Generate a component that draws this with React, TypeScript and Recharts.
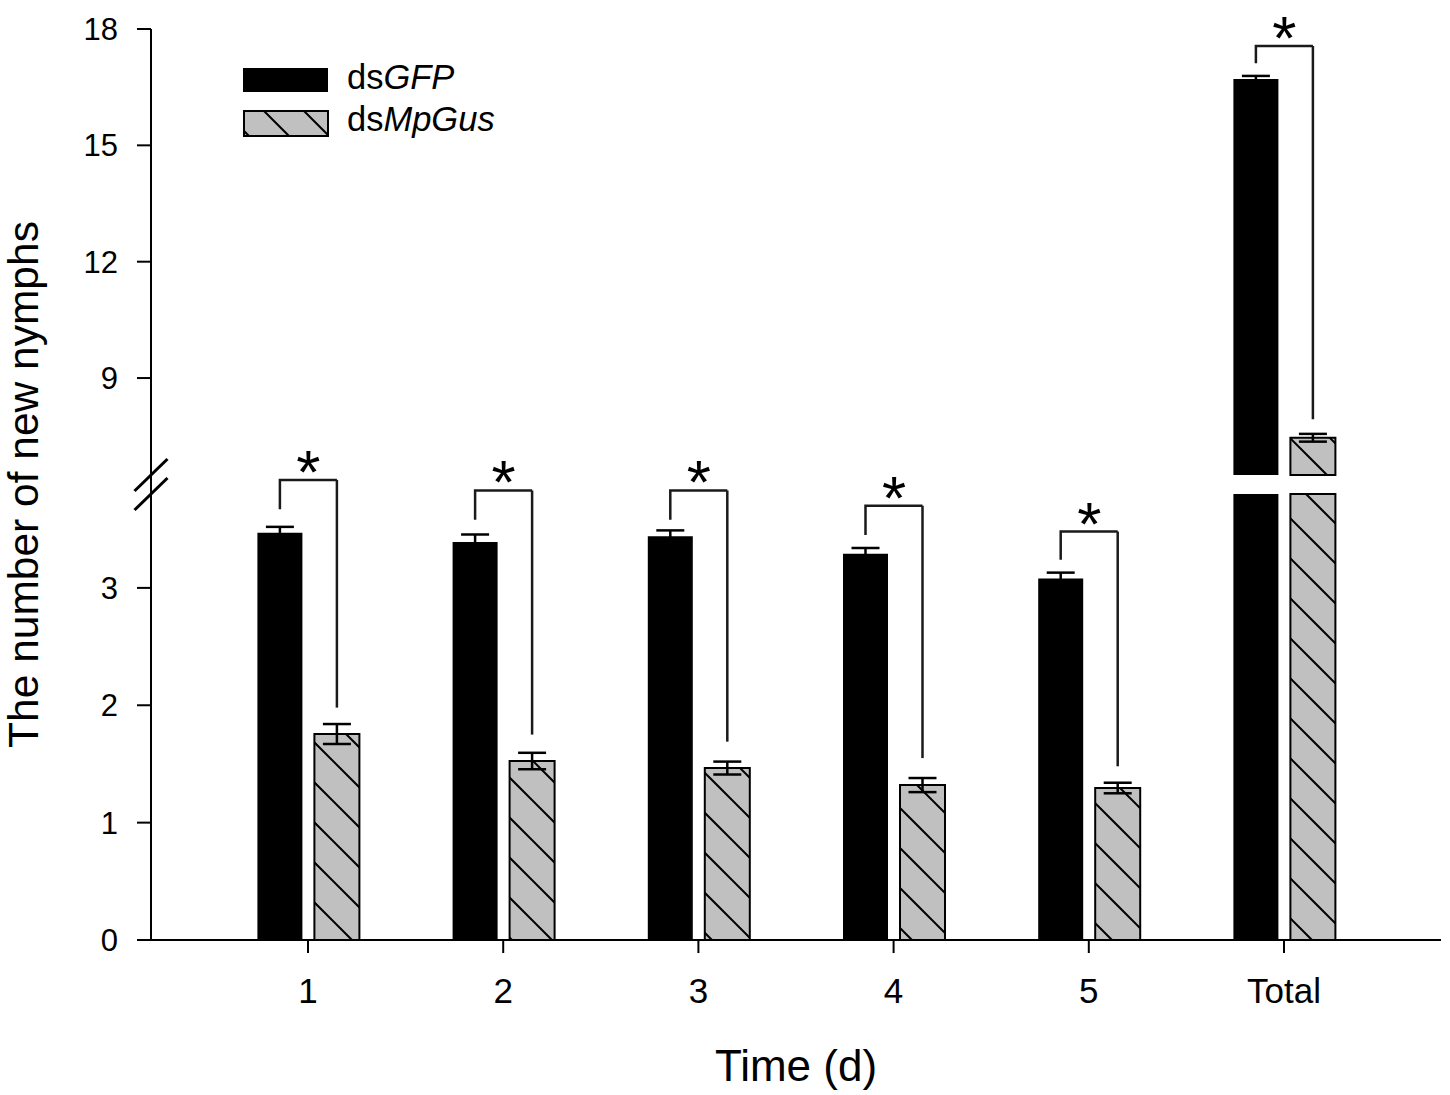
import React from 'react';
import { BarChart, Bar, XAxis, YAxis, ErrorBar, ReferenceLine, Legend } from 'recharts';

// ---------- data ----------
const categories = ['1', '2', '3', '4', '5', 'Total'];
const gfpMean = [3.47, 3.39, 3.44, 3.29, 3.08, 16.71];
const gfpSE = [0.05, 0.065, 0.05, 0.05, 0.05, 0.08];
const gusMean = [1.755, 1.525, 1.465, 1.32, 1.295, 7.46];
const gusSE = [0.085, 0.07, 0.055, 0.06, 0.045, 0.1];
const bracketTop = [3.92, 3.83, 3.83, 3.7, 3.48, 17.56];
const gfpLegEnd = [3.67, 3.58, 3.58, 3.45, 3.24, 17.12];
const gusLegEnd = [1.98, 1.75, 1.69, 1.55, 1.48, 7.94];
const sigMarks = ['*', '*', '*', '*', '*', '*'];
const upperTicks = [9, 12, 15, 18];
const lowerTicks = [0, 1, 2, 3];
const seriesPrefix = 'ds';
const seriesGenes = ['GFP', 'MpGus'];
const xTitle = 'Time (d)';
const yTitle = 'The number of new nymphs';

// axis break
const LOW_MAX = 3.8;
const UP_MIN = 6.5;
const UP_MAX = 18;

// ---------- layout ----------
const W = 1450;
const H = 1095;
const PLOT_L = 151;
const PLOT_R = 1441;
const TOP = 29;
const UP_BOTTOM = 475;
const LOW_TOP = 494;
const BASE = 940;
const X_AXIS_H = 141;
const Y_AXIS_W = 80;
const PAD = 59.4;
const BAR_SIZE = 45;
const BAR_GAP = 12;
const FONT = '"Liberation Sans", Arial, Helvetica, sans-serif';
const GRAY = '#c0c0c0';
const BRACKET = '#1a1a1a';

const pxU = (UP_BOTTOM - TOP) / (UP_MAX - UP_MIN);
const pxL = (BASE - LOW_TOP) / LOW_MAX;
const overLowDomain = [0, (BASE - TOP) / pxL];
const overUpDomain = [UP_MIN - (BASE - UP_BOTTOM) / pxU, UP_MAX];

const rows = categories.map((cat, i) => {
  const broken = gfpMean[i] > LOW_MAX;
  return {
    cat,
    sig: sigMarks[i],
    gfpLow: Math.min(gfpMean[i], LOW_MAX),
    gfpLowErr: gfpMean[i] > LOW_MAX ? null : gfpSE[i],
    gusLow: Math.min(gusMean[i], LOW_MAX),
    gusLowErr: gusMean[i] > LOW_MAX ? null : gusSE[i],
    gfpUp: gfpMean[i] > UP_MIN ? gfpMean[i] : null,
    gfpUpErr: gfpMean[i] > UP_MIN ? gfpSE[i] : null,
    gusUp: gusMean[i] > UP_MIN ? gusMean[i] : null,
    gusUpErr: gusMean[i] > UP_MIN ? gusSE[i] : null,
    legLowG: !broken ? [gfpLegEnd[i], bracketTop[i]] : null,
    legLowM: !broken ? [gusLegEnd[i], bracketTop[i]] : null,
    legUpG: broken ? [gfpLegEnd[i], bracketTop[i]] : null,
    legUpM: broken ? [gusLegEnd[i], bracketTop[i]] : null,
  };
});

const hatchPath = (c: number) => `M-5,${c - 5}L45,${c + 45}M-5,${c - 45}L45,${c + 5}`;

const HatchDefs = ({ id, phase }: { id: string; phase: number }) => (
  <defs>
    <pattern id={id} patternUnits="userSpaceOnUse" width={40} height={40}>
      <rect x={0} y={0} width={40} height={40} fill={GRAY} />
      <path d={hatchPath(phase)} stroke="#000" strokeWidth={2} fill="none" />
    </pattern>
  </defs>
);

const BracketLeft = (p: any) => {
  const { x, y, width, height, payload } = p;
  if (x == null || y == null || !height) return null;
  const cx = x + width / 2;
  const cx2 = cx + width + BAR_GAP;
  return (
    <g>
      <path d={`M${cx},${y + height}V${y}H${cx2}`} fill="none" stroke={BRACKET} strokeWidth={2.5} />
      <text x={(cx + cx2) / 2} y={y + 13} textAnchor="middle" fontSize={62} fill="#000" fontFamily={FONT}>
        {payload.sig}
      </text>
    </g>
  );
};

const BracketRight = (p: any) => {
  const { x, y, width, height } = p;
  if (x == null || y == null || !height) return null;
  const cx = x + width / 2;
  return <path d={`M${cx},${y + height}V${y}`} fill="none" stroke={BRACKET} strokeWidth={2.5} />;
};

const BreakMark = (p: any) => {
  const { x1, y1 } = p;
  if (x1 == null || y1 == null) return null;
  return <line x1={x1 - 16.5} y1={y1 + 16} x2={x1 + 16.5} y2={y1 - 16} stroke="#000" strokeWidth={3} />;
};

const LegendBox = () => (
  <svg width={300} height={90} style={{ display: 'block', overflow: 'visible' }}>
    <HatchDefs id="hatchLeg" phase={30} />
    <rect x={0} y={8} width={85} height={24} fill="#000" />
    <text x={104} y={29} fontSize={34.5} fill="#000" fontFamily={FONT}>
      {seriesPrefix}
      <tspan fontStyle="italic">{seriesGenes[0]}</tspan>
    </text>
    <rect x={1} y={51} width={84} height={25} fill="url(#hatchLeg)" stroke="#000" strokeWidth={2} />
    <text x={104} y={71} fontSize={34.5} fill="#000" fontFamily={FONT}>
      {seriesPrefix}
      <tspan fontStyle="italic">{seriesGenes[1]}</tspan>
    </text>
  </svg>
);

const tickStyle = (size: number) => ({ fontSize: size, fill: '#000', fontFamily: FONT });
const layer: React.CSSProperties = { position: 'absolute', left: 0, top: 0 };

export default function App() {
  return (
    <div style={{ position: 'absolute', left: 0, top: 0, width: W, height: H, background: '#fff', fontFamily: FONT }}>
      {/* upper segment */}
      <div style={layer}>
        <BarChart
          width={W}
          height={H}
          data={rows}
          barSize={BAR_SIZE}
          barGap={BAR_GAP}
          margin={{ top: TOP, right: W - PLOT_R, bottom: H - UP_BOTTOM, left: PLOT_L - Y_AXIS_W }}
        >
          <HatchDefs id="hatchU" phase={28} />
          <XAxis dataKey="cat" hide padding={{ left: PAD, right: PAD }} />
          <YAxis
            type="number"
            domain={[UP_MIN, UP_MAX]}
            ticks={upperTicks}
            width={Y_AXIS_W}
            axisLine={false}
            tickLine={{ stroke: '#000', strokeWidth: 2 }}
            tickSize={14}
            tickMargin={19}
            tick={tickStyle(31)}
          />
          <Legend
            layout="vertical"
            align="center"
            verticalAlign="middle"
            wrapperStyle={{ left: 243, top: 60, width: 300, height: 90 }}
            content={() => <LegendBox />}
          />
          <ReferenceLine y={UP_MIN} stroke="none" ifOverflow="visible" shape={BreakMark} />
          <Bar dataKey="gfpUp" name="dsGFP" fill="#000" isAnimationActive={false}>
            <ErrorBar dataKey="gfpUpErr" direction="y" width={14} stroke="#000" strokeWidth={2.5} />
          </Bar>
          <Bar dataKey="gusUp" name="dsMpGus" fill="url(#hatchU)" stroke="#000" strokeWidth={2} isAnimationActive={false}>
            <ErrorBar dataKey="gusUpErr" direction="y" width={14} stroke="#000" strokeWidth={2.5} />
          </Bar>
        </BarChart>
      </div>

      {/* lower segment */}
      <div style={layer}>
        <BarChart
          width={W}
          height={H}
          data={rows}
          barSize={BAR_SIZE}
          barGap={BAR_GAP}
          margin={{ top: LOW_TOP, right: W - PLOT_R, bottom: H - BASE - X_AXIS_H, left: PLOT_L - Y_AXIS_W }}
        >
          <HatchDefs id="hatchL" phase={28} />
          <XAxis
            dataKey="cat"
            interval={0}
            padding={{ left: PAD, right: PAD }}
            height={X_AXIS_H}
            axisLine={{ stroke: '#000', strokeWidth: 2 }}
            tickLine={{ stroke: '#000', strokeWidth: 2 }}
            tickSize={13}
            tickMargin={25}
            tick={tickStyle(35)}
            label={{ value: xTitle, position: 'insideBottom', offset: 0, fontSize: 44, fill: '#000', fontFamily: FONT }}
          />
          <YAxis
            type="number"
            domain={[0, LOW_MAX]}
            ticks={lowerTicks}
            width={Y_AXIS_W}
            axisLine={false}
            tickLine={{ stroke: '#000', strokeWidth: 2 }}
            tickSize={14}
            tickMargin={19}
            tick={tickStyle(31)}
          />
          <ReferenceLine y={LOW_MAX} stroke="none" ifOverflow="visible" shape={BreakMark} />
          <Bar dataKey="gfpLow" name="dsGFP" fill="#000" isAnimationActive={false}>
            <ErrorBar dataKey="gfpLowErr" direction="y" width={14} stroke="#000" strokeWidth={2.5} />
          </Bar>
          <Bar dataKey="gusLow" name="dsMpGus" fill="url(#hatchL)" stroke="#000" strokeWidth={2} isAnimationActive={false}>
            <ErrorBar dataKey="gusLowErr" direction="y" width={14} stroke="#000" strokeWidth={2.5} />
          </Bar>
        </BarChart>
      </div>

      {/* significance brackets, lower scale */}
      <div style={layer}>
        <BarChart
          width={W}
          height={H}
          data={rows}
          barSize={BAR_SIZE}
          barGap={BAR_GAP}
          margin={{ top: TOP, right: W - PLOT_R, bottom: H - BASE, left: 0 }}
        >
          <XAxis dataKey="cat" hide padding={{ left: PAD, right: PAD }} />
          <YAxis type="number" domain={overLowDomain} width={PLOT_L} tick={false} tickLine={false} axisLine={false} />
          <Bar dataKey="legLowG" isAnimationActive={false} shape={BracketLeft} />
          <Bar dataKey="legLowM" isAnimationActive={false} shape={BracketRight} />
        </BarChart>
      </div>

      {/* significance bracket for the total, upper scale, plus the full y axis line and title */}
      <div style={layer}>
        <BarChart
          width={W}
          height={H}
          data={rows}
          barSize={BAR_SIZE}
          barGap={BAR_GAP}
          margin={{ top: TOP, right: W - PLOT_R, bottom: H - BASE, left: 0 }}
        >
          <XAxis dataKey="cat" hide padding={{ left: PAD, right: PAD }} />
          <YAxis
            type="number"
            domain={overUpDomain}
            width={PLOT_L}
            tick={false}
            tickLine={false}
            axisLine={{ stroke: '#000', strokeWidth: 2 }}
            label={{
              value: yTitle,
              angle: -90,
              position: 'insideLeft',
              offset: 23,
              fontSize: 42.5,
              fill: '#000',
              fontFamily: FONT,
              style: { textAnchor: 'middle' },
            }}
          />
          <Bar dataKey="legUpG" isAnimationActive={false} shape={BracketLeft} />
          <Bar dataKey="legUpM" isAnimationActive={false} shape={BracketRight} />
        </BarChart>
      </div>
    </div>
  );
}
